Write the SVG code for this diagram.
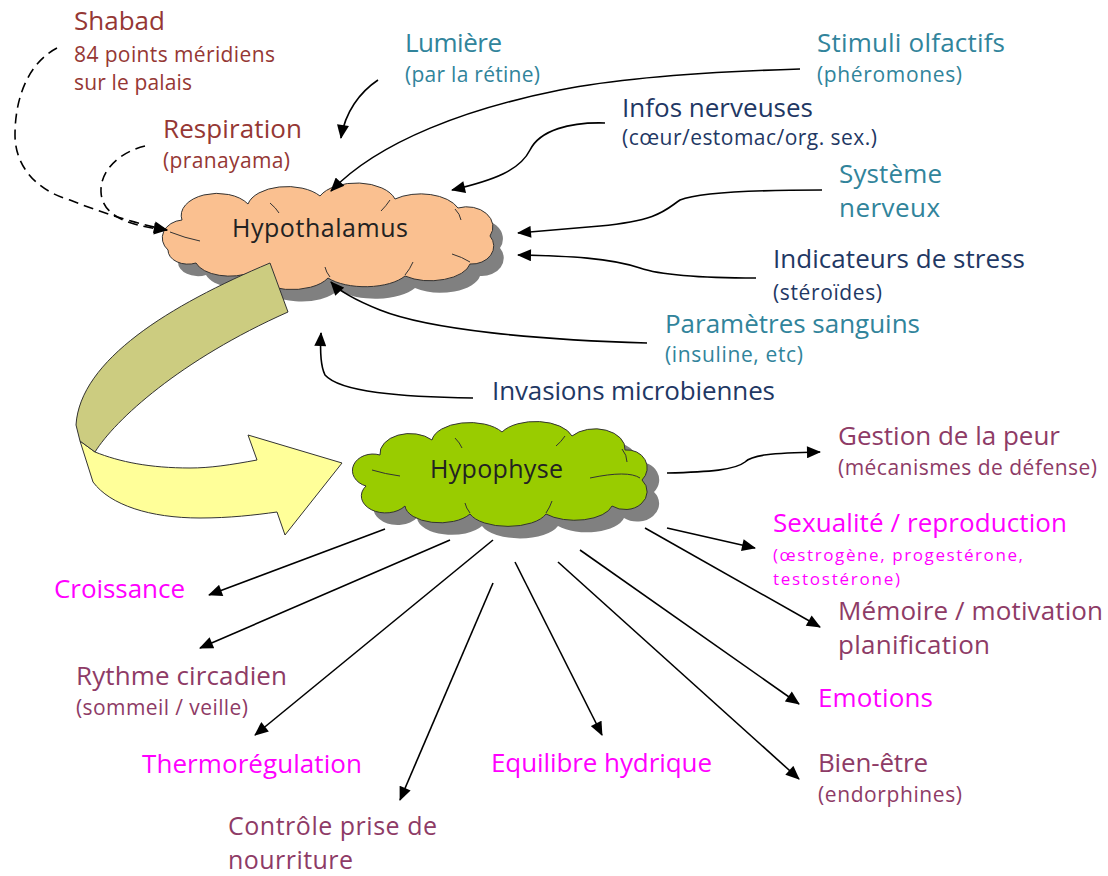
<svg xmlns="http://www.w3.org/2000/svg" width="1108" height="876" viewBox="0 0 1108 876">
<defs>
<marker id="ah" viewBox="0 0 14 12" refX="13" refY="6" markerWidth="15" markerHeight="12" markerUnits="userSpaceOnUse" orient="auto">
<path d="M0,0 L14,6 L0,12 Z" fill="#000"/>
</marker>
<path id="cloud1" d="M168,250 A22 18 0 0 1 182,220 A36 22 0 0 1 248,204 A40 22 0 0 1 320,196 A40 22 0 0 1 395,199 A40 22 0 0 1 458,208 A26 20 0 0 1 490,236 A22 18 0 0 1 470,264 A40 20 0 0 1 405,276 A45 20 0 0 1 328,278 A40 20 0 0 1 252,272 A35 18 0 0 1 196,263 A20 14 0 0 1 168,250 Z"/>
<path id="cloud2" d="M366,486 A20 16 0 0 1 380,455 A30 20 0 0 1 432,440 A38 20 0 0 1 502,432 A38 20 0 0 1 572,436 A30 20 0 0 1 625,450 A20 18 0 0 1 642,480 A22 18 0 0 1 612,506 A38 18 0 0 1 546,514 A40 18 0 0 1 470,514 A35 18 0 0 1 405,506 A20 14 0 0 1 366,486 Z"/>
</defs>
<style>
text{font-family:"Open Sans","Noto Sans","Liberation Sans",sans-serif}
.big{font-size:26px}
.mid{font-size:25px}
.sm{font-size:21px}
.xs{font-size:17px}
.red{fill:#953734}
.teal{fill:#31849B}
.navy{fill:#1F3864}
.mauve{fill:#8E3B66}
.mag{fill:#FF00FF}
.conn path{fill:none;stroke:#000;stroke-width:1.6}
.dash{stroke-dasharray:10 6}
.cl{stroke:#333;stroke-width:1}
.inner{fill:none;stroke:#333;stroke-width:1}
.shadow{fill:#808080}
.lbl{font-size:25px;fill:#222}
</style>
<rect width="1108" height="876" fill="#fff"/>

<g id="hypothalamus">
<use href="#cloud1" class="shadow" transform="translate(10,12)"/>
<use href="#cloud1" fill="#FAC090" class="cl"/>
<path class="inner" d="M170,232 Q185,238 200,241 M270,203 Q276,208 279,213 M390,200 Q386,206 381,211 M455,209 Q460,214 461,220 M470,262 Q462,257 452,254 M405,275 Q410,269 413,262 M330,277 Q326,272 325,267"/>
<text class="lbl" x="232" y="237" textLength="176">Hypothalamus</text>
</g>

<g id="big-arrow">
<path d="M80,441 L93,482 C110,505 150,518 200,518 C230,518 255,515 277,512 L285,535 L342,463 L248,435 L257,460 C230,465 210,468 190,468 C150,468 120,462 95,452 Z" fill="#FFFF99" stroke="#333" stroke-width="1"/>
<path d="M270,263 C170,305 80,360 76,425 L80,441 L95,452 C115,420 180,360 288,312 Z" fill="#CCCC80" stroke="#333" stroke-width="1"/>
</g>

<g id="hypophyse">
<use href="#cloud2" class="shadow" transform="translate(12,12)"/>
<use href="#cloud2" fill="#99CC00" class="cl"/>
<path class="inner" d="M372,470 Q385,474 400,476 M455,438 Q460,443 462,448 M565,436 Q561,442 556,446 M622,449 Q627,455 627,462 M640,478 Q628,470 590,478 M546,513 Q550,507 552,501 M470,513 Q466,508 465,503"/>
<text class="lbl" x="430" y="478" textLength="133">Hypophyse</text>
</g>

<g id="connectors" class="conn">
<path class="dash" d="M57,48 C30,62 15,95 15,135 C15,165 35,190 70,200 C100,212 130,222 167,230" marker-end="url(#ah)"/>
<path class="dash" d="M145,146 C120,152 100,170 101,192 C102,212 120,225 167,230" marker-end="url(#ah)"/>
<path d="M378,80 C360,92 345,112 341,138" marker-end="url(#ah)"/>
<path d="M800,69 C700,72 620,78 560,90 C470,108 380,140 331,191" marker-end="url(#ah)"/>
<path d="M605,123 C570,122 540,130 530,150 C520,170 495,180 452,190" marker-end="url(#ah)"/>
<path d="M822,190 C760,190 700,192 680,200 C665,210 660,220 600,226 L518,233" marker-end="url(#ah)"/>
<path d="M756,278 C700,278 660,275 640,268 C610,258 570,256 518,255" marker-end="url(#ah)"/>
<path d="M647,343 C540,340 430,330 380,310 C355,300 340,292 331,282" marker-end="url(#ah)"/>
<path d="M473,398 C400,397 340,392 325,375 C320,365 320,350 321,333" marker-end="url(#ah)"/>
<path d="M667,473 C710,472 735,470 745,462 C752,455 770,453 820,452" marker-end="url(#ah)"/>
<path d="M667,528 L755,548" marker-end="url(#ah)"/>
<path d="M645,528 L820,627" marker-end="url(#ah)"/>
<path d="M580,550 L799,704" marker-end="url(#ah)"/>
<path d="M558,562 L799,779" marker-end="url(#ah)"/>
<path d="M515,562 L602,735" marker-end="url(#ah)"/>
<path d="M493,583 L400,800" marker-end="url(#ah)"/>
<path d="M493,540 L255,735" marker-end="url(#ah)"/>
<path d="M450,540 L200,648" marker-end="url(#ah)"/>
<path d="M385,529 L209,595" marker-end="url(#ah)"/>
</g>

<g id="labels">
<text class="big red" x="74" y="30" textLength="91">Shabad</text>
<text class="sm red" x="74" y="62" textLength="201">84 points méridiens</text>
<text class="sm red" x="74" y="90" textLength="118">sur le palais</text>
<text class="big red" x="163" y="138" textLength="139">Respiration</text>
<text class="sm red" x="163" y="168" textLength="127">(pranayama)</text>

<text class="big teal" x="405" y="52" textLength="97">Lumière</text>
<text class="sm teal" x="405" y="82" textLength="135">(par la rétine)</text>
<text class="big teal" x="817" y="52" textLength="188">Stimuli olfactifs</text>
<text class="sm teal" x="817" y="82" textLength="145">(phéromones)</text>
<text class="big navy" x="622" y="117" textLength="191">Infos nerveuses</text>
<text class="sm navy" x="622" y="145" textLength="255">(cœur/estomac/org. sex.)</text>
<text class="big teal" x="839" y="183" textLength="103">Système</text>
<text class="big teal" x="839" y="217" textLength="101">nerveux</text>
<text class="big navy" x="773" y="268" textLength="252">Indicateurs de stress</text>
<text class="sm navy" x="773" y="300" textLength="109">(stéroïdes)</text>
<text class="big teal" x="665" y="333" textLength="255">Paramètres sanguins</text>
<text class="sm teal" x="665" y="362" textLength="138">(insuline, etc)</text>
<text class="big navy" x="492" y="400" textLength="283">Invasions microbiennes</text>

<text class="big mauve" x="838" y="445" textLength="222">Gestion de la peur</text>
<text class="sm mauve" x="838" y="475" textLength="259">(mécanismes de défense)</text>
<text class="big mag" x="773" y="532" textLength="294">Sexualité / reproduction</text>
<text class="xs mag" x="773" y="561" textLength="250">(œstrogène, progestérone,</text>
<text class="xs mag" x="773" y="585" textLength="127">testostérone)</text>
<text class="big mauve" x="838" y="620" textLength="265">Mémoire / motivation</text>
<text class="big mauve" x="838" y="654" textLength="152">planification</text>
<text class="big mag" x="818" y="707" textLength="115">Emotions</text>
<text class="big mauve" x="818" y="772" textLength="110">Bien-être</text>
<text class="sm mauve" x="818" y="802" textLength="144">(endorphines)</text>
<text class="big mag" x="491" y="772" textLength="221">Equilibre hydrique</text>

<text class="big mag" x="54" y="598" textLength="131">Croissance</text>
<text class="big mauve" x="76" y="685" textLength="211">Rythme circadien</text>
<text class="sm mauve" x="76" y="715" textLength="172">(sommeil / veille)</text>
<text class="big mag" x="142" y="773" textLength="220">Thermorégulation</text>
<text class="mid mauve" x="228" y="835" textLength="209">Contrôle prise de</text>
<text class="mid mauve" x="228" y="869" textLength="125">nourriture</text>
</g>
</svg>
